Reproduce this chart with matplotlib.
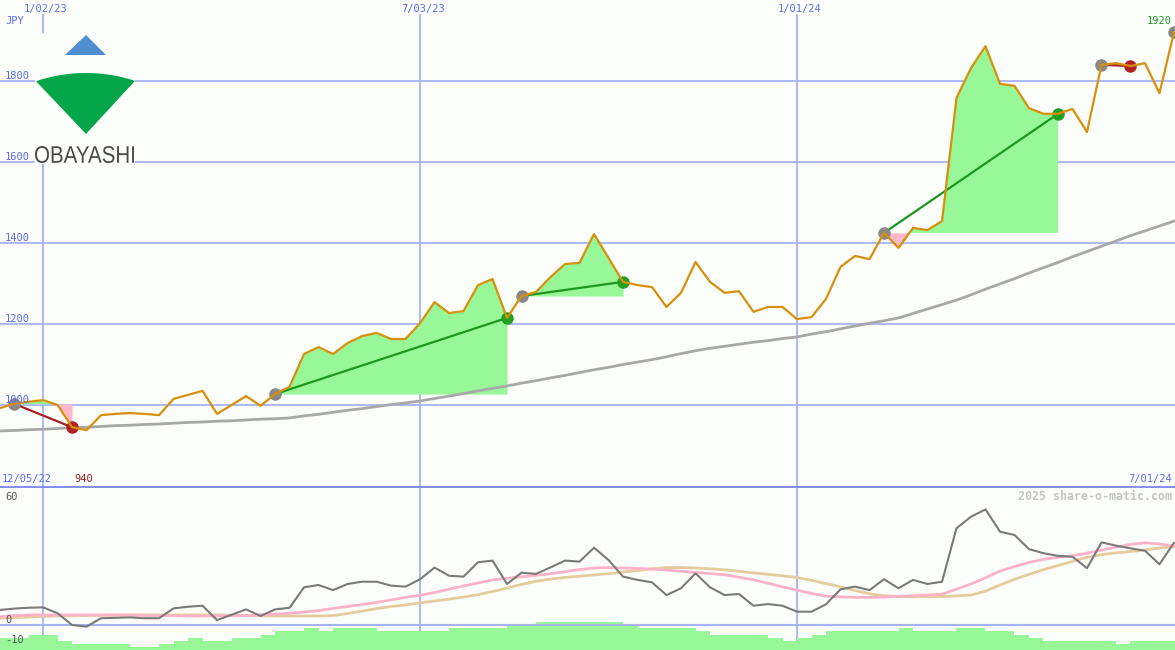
import numpy as np
import matplotlib
matplotlib.use("Agg")
import matplotlib.pyplot as plt
from matplotlib.patches import Polygon, Rectangle, PathPatch
from matplotlib.lines import Line2D
from matplotlib.textpath import TextPath
from matplotlib.font_manager import FontProperties
from matplotlib.transforms import Affine2D, blended_transform_factory

# weekly closes (JPY), index 0 = first week on the chart
price = [992, 1003, 1008, 1012, 1000, 945, 938, 975, 978, 980,
         978, 975, 1015, 1025, 1035, 978, 1000, 1022, 998, 1027,
         1045, 1126, 1143, 1126, 1153, 1170, 1178, 1163, 1163, 1202,
         1254, 1227, 1232, 1296, 1311, 1215, 1269, 1279, 1316, 1348,
         1351, 1422, 1363, 1304, 1296, 1291, 1242, 1277, 1353, 1304,
         1277, 1281, 1230, 1242, 1242, 1212, 1217, 1262, 1341, 1368,
         1360, 1425, 1388, 1437, 1432, 1454, 1758, 1832, 1886, 1793,
         1788, 1733, 1719, 1719, 1731, 1674, 1840, 1844, 1837, 1844,
         1770, 1920]

# long moving average (gray line)
ma_long = [936, 937, 939, 940, 942, 944, 945, 947, 949, 950,
           952, 953, 955, 957, 958, 960, 961, 963, 965, 966,
           968, 973, 977, 982, 987, 991, 996, 1001, 1005, 1010,
           1016, 1022, 1028, 1035, 1041, 1047, 1054, 1060, 1067, 1073,
           1080, 1087, 1093, 1100, 1106, 1112, 1119, 1127, 1134, 1140,
           1145, 1150, 1155, 1159, 1164, 1168, 1175, 1181, 1188, 1195,
           1202, 1208, 1215, 1226, 1237, 1248, 1259, 1272, 1286, 1299,
           1312, 1326, 1339, 1352, 1366, 1379, 1392, 1405, 1418, 1430,
           1442, 1454]

# lower panel indicator and its two averages
osc = [7.3, 8.0, 8.4, 8.6, 5.7, 0.0, -0.8, 3.3, 3.5, 3.7,
       3.3, 3.3, 8.1, 8.9, 9.4, 2.4, 5.0, 7.6, 4.4, 7.6,
       8.4, 18.4, 19.5, 17.0, 20.0, 21.1, 21.1, 19.2, 18.7, 22.3,
       28.0, 24.0, 23.6, 30.6, 31.4, 20.0, 25.5, 24.9, 28.1, 31.4,
       30.9, 37.7, 31.7, 23.6, 22.0, 20.8, 14.6, 17.9, 25.2, 18.4,
       14.6, 15.1, 9.4, 10.2, 9.4, 6.5, 6.5, 10.1, 17.4, 18.7,
       17.0, 22.3, 17.9, 22.0, 20.0, 21.1, 47.2, 52.8, 56.4, 45.5,
       43.9, 37.0, 35.0, 33.7, 33.3, 27.7, 40.3, 38.7, 37.4, 36.2,
       29.6, 40.1]

osc_fast = [4.0, 4.6, 4.9, 4.9, 4.9, 4.9, 4.9, 4.9, 4.9, 4.8,
            4.7, 4.6, 4.5, 4.4, 4.4, 4.4, 4.5, 4.6, 5.0, 5.3,
            5.7, 6.3, 7.0, 8.1, 9.0, 10.0, 11.0, 12.2, 13.5, 14.5,
            15.8, 17.5, 19.0, 20.5, 22.0, 22.8, 23.5, 24.2, 25.0, 26.0,
            27.0, 27.8, 28.0, 27.8, 27.6, 27.3, 26.8, 26.2, 25.6, 25.1,
            24.5, 23.3, 22.0, 20.4, 18.6, 17.0, 15.4, 14.1, 13.7, 13.5,
            13.5, 13.6, 14.0, 14.3, 14.6, 15.0, 17.5, 20.0, 23.0, 26.3,
            28.5, 30.5, 32.0, 33.0, 33.8, 35.0, 36.5, 38.0, 39.3, 40.1,
            39.5, 38.5]

osc_slow = [3.3, 3.6, 3.9, 4.2, 4.4, 4.5, 4.6, 4.7, 4.8, 4.9,
            4.9, 4.9, 4.9, 4.9, 4.9, 4.9, 4.8, 4.7, 4.5, 4.4,
            4.4, 4.4, 4.4, 4.6, 5.6, 6.8, 8.0, 9.0, 9.8, 10.8,
            11.7, 12.6, 13.6, 14.8, 16.3, 18.0, 19.8, 21.3, 22.4, 23.2,
            23.8, 24.4, 25.0, 25.8, 26.6, 27.4, 28.0, 28.0, 27.8, 27.4,
            26.9, 26.2, 25.4, 24.7, 24.0, 23.2, 21.8, 20.2, 18.6, 16.8,
            15.2, 14.2, 13.9, 13.8, 13.8, 13.9, 14.2, 14.6, 16.5, 19.5,
            22.3, 24.7, 27.0, 29.0, 31.0, 33.0, 34.3, 35.2, 35.8, 36.6,
            37.5, 38.2]

volume = [4, 4, 5, 5, 3, 2, 2, 2, 2, 1,
          1, 2, 3, 4, 3, 3, 4, 4, 5, 6,
          6, 7, 6, 7, 7, 7, 6, 6, 6, 6,
          6, 7, 7, 7, 7, 8, 8, 9, 9, 9,
          9, 9, 9, 8, 7, 7, 7, 7, 6, 5,
          5, 5, 5, 4, 3, 4, 5, 6, 6, 6,
          6, 6, 7, 6, 6, 6, 7, 7, 6, 6,
          5, 4, 3, 3, 3, 3, 3, 2, 3, 3,
          3, 3]

# (entry week, exit week)
trades = [(1, 5), (19, 35), (36, 43), (61, 73), (76, 78)]
last_week = 81

date_ticks = [3, 29, 55]
date_labels = ["1/02/23", "7/03/23", "1/01/24"]
price_ticks = [1000, 1200, 1400, 1600, 1800]
osc_ticks = [60, 0, -10]
start_label = "12/05/22"
end_label = "7/01/24"
low_label = "940"
low_week = 5

BG = "#fcfefc"
GRID = "#a6b3f4"
SEP = "#7886f0"
BLUE_TXT = "#5b6cf2"
FILL_UP = "#98f898"
FILL_DN = "#ffb8c8"
MONO = "DejaVu Sans Mono"

x = np.arange(len(price))
p = np.array(price, dtype=float)

W, H = 1175, 650
top_h = 487
fig = plt.figure(figsize=(W / 100, H / 100), dpi=100)
fig.patch.set_facecolor(BG)

# ---------- price panel ----------
ax = fig.add_axes([0, (H - top_h) / H, 1, top_h / H])
ax.set_xlim(0.03, 81.07)
ax.set_ylim(797.5, 2000)
ax.set_axis_off()

for v in price_ticks:
    ax.axhline(v, color=GRID, lw=1.3, zorder=1)
for d in date_ticks:
    ax.axvline(d, ymin=0, ymax=1 - 15 / top_h, color=GRID, lw=1.3, zorder=1)

for s, e in trades:
    xs = x[s:e + 1]
    ps = p[s:e + 1]
    base = p[s]
    ax.fill_between(xs, ps, base, where=ps >= base, interpolate=True,
                    color=FILL_UP, lw=0, zorder=2)
    ax.fill_between(xs, ps, base, where=ps < base, interpolate=True,
                    color=FILL_DN, lw=0, zorder=2)

ax.plot(x, ma_long, color="#a8a8a8", lw=2, zorder=3)

for s, e in trades:
    col = "#1f961f" if p[e] >= p[s] else "#a52020"
    dot = "#22a022" if p[e] >= p[s] else "#b02222"
    ax.plot([s, e], [p[s], p[e]], color=col, lw=1.6, zorder=4)
    ax.plot(s, p[s], "o", ms=9, color="#888888", mec="none", zorder=5)
    ax.plot(e, p[e], "o", ms=9, color=dot, mec="none", zorder=5)
ax.plot(last_week, p[last_week], "o", ms=9, color="#888888", mec="none", zorder=5)

ax.plot(x, p, color="#d8900c", lw=1.6, zorder=6)

ylab = blended_transform_factory(ax.transAxes, ax.transData)
for v in price_ticks:
    ax.text(5 / W, v, str(v), transform=ylab, ha="left", va="bottom",
            fontsize=7.5, family=MONO, color=BLUE_TXT, zorder=7)
xlab = blended_transform_factory(ax.transData, ax.transAxes)
for d, lab in zip(date_ticks, date_labels):
    ax.text(d + 0.2, 1 - 9 / top_h, lab, transform=xlab, ha="center", va="center",
            fontsize=7.5, family=MONO, color=BLUE_TXT)
ax.text(5 / W, 1 - 21 / top_h, "JPY", transform=ax.transAxes, ha="left", va="center",
        fontsize=7.5, family=MONO, color=BLUE_TXT)
ax.text(2 / W, 1 - 479 / top_h, start_label, transform=ax.transAxes, ha="left",
        va="center", fontsize=7.5, family=MONO, color=BLUE_TXT)
ax.text(1 - 3 / W, 1 - 479 / top_h, end_label, transform=ax.transAxes, ha="right",
        va="center", fontsize=7.5, family=MONO, color=BLUE_TXT)
ax.text(low_week + 0.15, 1 - 479 / top_h, low_label, transform=xlab, ha="left",
        va="center", fontsize=7.5, family=MONO, color="#a52020")
ax.text(1 - 3 / W, 1 - 21 / top_h, f"{price[last_week]:.0f}", transform=ax.transAxes,
        ha="right", va="center", fontsize=7.5, family=MONO, color="#1f961f")

# ---------- lower panel ----------
bot = [0, 0, 1, (H - top_h) / H]
axv = fig.add_axes(bot)
axv.set_xlim(0.03, 81.07)
axv.set_ylim(0, (H - top_h) / 3.1)
axv.set_axis_off()
for d in date_ticks:
    axv.axvline(d, color=GRID, lw=1.3, zorder=1)
axv.bar(x, volume, width=1, align="edge", color=FILL_UP, lw=0, zorder=2)

axb = fig.add_axes(bot)
axb.set_xlim(0.03, 81.07)
axb.set_ylim(-12.2, 67.3)
axb.set_axis_off()
axb.patch.set_visible(False)
axb.axhline(0, color=GRID, lw=1.5, zorder=1)
axb.plot(x, osc_slow, color="#e4cc9c", lw=2, zorder=2)
axb.plot(x, osc_fast, color="#ffb2c8", lw=2, zorder=3)
axb.plot(x, osc, color="#7a7a7a", lw=1.5, zorder=4)
olab = blended_transform_factory(axb.transAxes, axb.transData)
for v in osc_ticks:
    axb.text(5 / W, v, str(v), transform=olab, ha="left", va="bottom",
             fontsize=7.5, family=MONO, color="#555555")
axb.text(1 - 3 / W, 1 - 9 / (H - top_h), "2025 share-o-matic.com", transform=axb.transAxes,
         ha="right", va="center", fontsize=8.4, family=MONO, weight="bold", color="#c4c4c4")

fig.add_artist(Line2D([0, 1], [1 - 486.5 / H, 1 - 486.5 / H], transform=fig.transFigure,
                      color=SEP, lw=1.3))

# ---------- logo ----------
axl = fig.add_axes([0, 0, 1, 1])
axl.set_xlim(0, W)
axl.set_ylim(H, 0)
axl.set_axis_off()
axl.patch.set_visible(False)
axl.add_patch(Rectangle((35, 33), 100, 131, color=BG, lw=0))
axl.add_patch(Polygon([(65, 55), (86, 35), (106, 55)], closed=True, color="#4f8fd0", lw=0))
R, cx, cy = 157, 86, 230
t = np.linspace(-np.arcsin(50 / R), np.arcsin(49 / R), 40)
arc = np.column_stack([cx + R * np.sin(t), cy - R * np.cos(t)])
fan = np.vstack([[86, 134], arc])
axl.add_patch(Polygon(fan, closed=True, color="#05a64a", lw=0))
tp = TextPath((0, 0), "OBAYASHI", size=20, prop=FontProperties(family="Liberation Sans"))
bb = tp.get_extents()
tr = (Affine2D().translate(-bb.x0, -bb.y0)
      .scale(99 / bb.width, -17 / bb.height).translate(35, 163))
axl.add_patch(PathPatch(tp, transform=tr + axl.transData, color="#4a4a4a", lw=0))

fig.savefig("out.png", dpi=100, facecolor=BG)
